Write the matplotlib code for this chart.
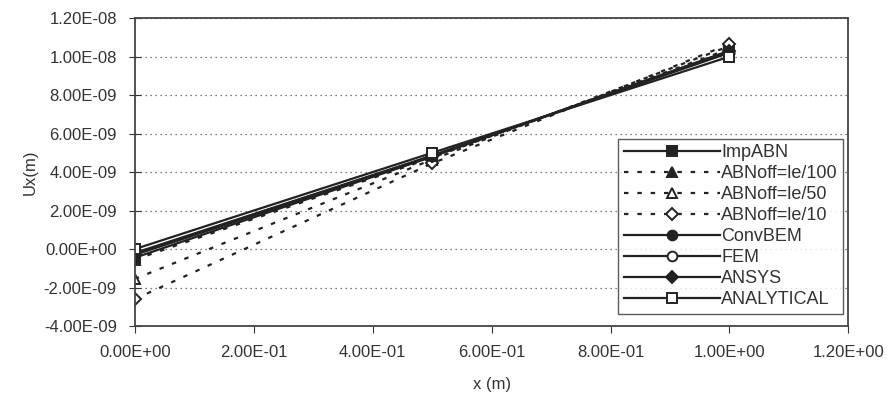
import matplotlib
matplotlib.use("Agg")
import matplotlib.pyplot as plt
from matplotlib.ticker import FuncFormatter, MultipleLocator

plt.rcParams['font.family'] = ['Liberation Sans', 'DejaVu Sans']

# data
x = [0.0, 0.5, 1.0]
imp_abn = [-0.45e-9, 4.80e-9, 1.03e-8]
abn_100 = [-0.55e-9, 4.75e-9, 1.04e-8]
abn_50 = [-1.55e-9, 4.65e-9, 1.055e-8]
abn_10 = [-2.60e-9, 4.45e-9, 1.065e-8]
conv_bem = [-0.25e-9, 4.85e-9, 1.025e-8]
fem = [-0.20e-9, 4.85e-9, 1.02e-8]
ansys = [-0.30e-9, 4.82e-9, 1.03e-8]
analytical = [0.0, 5.0e-9, 1.0e-8]

dots = (0, (2, 4))
series = [
    ("ImpABN", imp_abn, "-", "s", "#222222"),
    ("ABNoff=le/100", abn_100, dots, "^", "#222222"),
    ("ABNoff=le/50", abn_50, dots, "^", "white"),
    ("ABNoff=le/10", abn_10, dots, "D", "white"),
    ("ConvBEM", conv_bem, "-", "o", "#222222"),
    ("FEM", fem, "-", "o", "white"),
    ("ANSYS", ansys, "-", "D", "#222222"),
    ("ANALYTICAL", analytical, "-", "s", "white"),
]

fig = plt.figure(figsize=(8.93, 4.03), dpi=100)
ax = fig.add_axes([0.151, 0.191, 0.799, 0.764])

for name, vals, ls, mk, fc in series:
    ms = 7 if mk != "D" else 6
    ax.plot(x, vals, linestyle=ls, marker=mk, color="#222222", lw=1.6,
            markerfacecolor=fc, markeredgecolor="#222222", markersize=ms,
            markeredgewidth=1.4, label=name)

ax.set_xlim(0, 1.2)
ax.set_ylim(-4e-9, 1.2e-8)
ax.xaxis.set_major_locator(MultipleLocator(0.2))
ax.yaxis.set_major_locator(MultipleLocator(2e-9))
fmt = FuncFormatter(lambda v, p: f"{v:.2E}")
ax.xaxis.set_major_formatter(fmt)
ax.yaxis.set_major_formatter(fmt)
ax.yaxis.offsetText.set_visible(False)
ax.grid(axis="y", linestyle=(0, (1, 3)), color="#555555", lw=0.9)
ax.tick_params(axis="both", labelsize=12, colors="#333333", direction="out", length=5)
ax.tick_params(axis="x", pad=9)
ax.tick_params(axis="y", direction="inout", length=8, pad=9)

for s in ax.spines.values():
    s.set_color("#444444")
    s.set_linewidth(1.3)

ax.set_xlabel("x (m)", fontsize=12, color="#333333", labelpad=12)
ax.set_ylabel("Ux(m)", fontsize=12, color="#333333", labelpad=4)

leg = ax.legend(loc="lower right", bbox_to_anchor=(0.993, 0.04), fontsize=13,
                handlelength=5.3, frameon=True, fancybox=False, labelspacing=0.22,
                borderpad=0.3, handletextpad=0.1, borderaxespad=0.0)
leg.get_frame().set_edgecolor("#333333")
leg.get_frame().set_linewidth(1.0)
for t in leg.get_texts():
    t.set_color("#333333")

fig.savefig("out.png", dpi=100)
